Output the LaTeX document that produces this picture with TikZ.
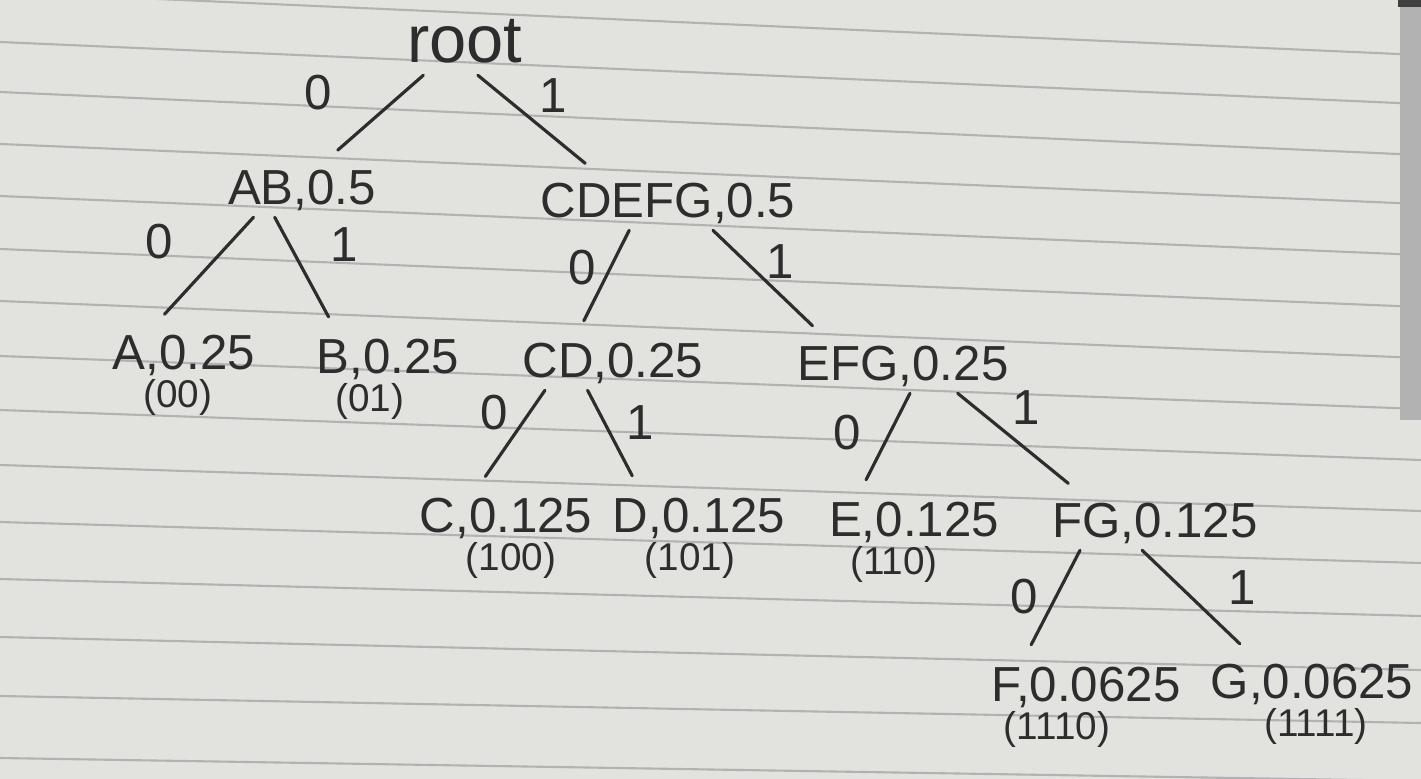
\documentclass[tikz,border=0pt]{standalone}
\usepackage{fontspec}
\setmainfont{Liberation Sans}
\usetikzlibrary{positioning}
\definecolor{paper}{RGB}{226,226,223}
\definecolor{ink}{RGB}{45,45,45}
\definecolor{ruling}{RGB}{178,178,178}
\tikzset{
	prob/.style={
		inner xsep=0, inner ysep=0.12cm,
		text height=10pt, text depth=0pt,
		font=\fontsize{14}{16}\selectfont, text=ink,
	},
	codeword/.style={prob, inner ysep=0, text height=7.9pt, font=\fontsize{11}{13}\selectfont},
	bit/.style={inner sep=0, font=\fontsize{14}{16}\selectfont, text=ink},
	branch/.style={draw=ink, line width=0.9pt, line cap=round, shorten >=0.1cm},
}

\begin{document}
\begin{tikzpicture}[x=0.01cm, y=-0.01cm]
	% lined paper
	\fill[paper] (0,0) rectangle (1421,779);
	\useasboundingbox (0,0) rectangle (1421,779);
	\foreach \yl/\yr in {-8/55, 42/104, 92/155, 144/204, 196/255, 249/307, 301/358, 356/409,
		410/460, 465/511, 522/563, 579/616, 637/670, 696/723, 758/781}
		\draw[ruling, line width=0.6pt] (0,\yl) -- (1421,\yr);
	\fill[gray!60] (1400,0) rectangle (1421,420);
	\fill[black!75] (1398,0) rectangle (1421,7);
	% nodes
	\node[prob, font=\fontsize{19}{21}\selectfont] (root) at (465,45) {root};
	\node[prob] (ab) at (302,187) {AB,0.5};
	\node[prob] (cdefg) at (668,200) {CDEFG,0.5};
	\node[prob] (a) at (184,352) {A,0.25};
	\node[prob] (b) at (388,356) {B,0.25};
	\node[prob] (cd) at (613,360) {CD,0.25};
	\node[prob] (efg) at (903,363) {EFG,0.25};
	\node[prob] (c) at (506,515) {C,0.125};
	\node[prob] (d) at (699,515) {D,0.125};
	\node[prob] (e) at (914,519) {E,0.125};
	\node[prob] (fg) at (1155,520) {FG,0.125};
	\node[prob] (f) at (1086,684) {F,0.0625};
	\node[prob] (g) at (1312,681) {G,0.0625};
	% codewords
	\node[codeword, below=-0.035cm of a, xshift=-0.06cm] (a-code) {(00)};
	\node[codeword, below=-0.035cm of b, xshift=-0.18cm] (b-code) {(01)};
	\node[codeword, below=-0.035cm of c, xshift=0.05cm] (c-code) {(100)};
	\node[codeword, below=-0.035cm of d, xshift=-0.09cm] (d-code) {(101)};
	\node[codeword, below=-0.035cm of e, xshift=-0.2cm] (e-code) {(110)};
	\node[codeword, below=-0.035cm of f, xshift=-0.29cm] (f-code) {(1110)};
	\node[codeword, below=-0.035cm of g, xshift=0.04cm] (g-code) {(1111)};
	% branches
	\draw[branch] (root.216) -- (ab.47)
		node[bit, midway, xshift=-0.59cm, yshift=0.235cm] (root-0) {0};
	\draw[branch] (root.293) -- (cdefg.158)
		node[bit, midway, xshift=0.18cm, yshift=0.27cm] (root-1) {1};
	\draw[branch] (ab.212) -- (a.131)
		node[bit, midway, xshift=-0.465cm, yshift=0.275cm] (ab-0) {0};
	\draw[branch] (ab.228) -- (b.151)
		node[bit, midway, xshift=0.4cm, yshift=0.265cm] (ab-1) {1};
	\draw[branch] (cdefg.218) -- (cd.138)
		node[bit, midway, xshift=-0.22cm, yshift=0.12cm] (cdefg-0) {0};
	\draw[branch] (cdefg.326) -- (efg.160)
		node[bit, midway, xshift=0.14cm, yshift=0.195cm] (cdefg-1) {1};
	\draw[branch] (cd.204) -- (c.131)
		node[bit, midway, xshift=-0.185cm, yshift=0.245cm] (cd-0) {0};
	\draw[branch] (cd.230) -- (d.154)
		node[bit, midway, xshift=0.28cm, yshift=0.145cm] (cd-1) {1};
	\draw[branch] (efg.283) -- (e.150)
		node[bit, midway, xshift=-0.39cm, yshift=0.08cm] (efg-0) {0};
	\draw[branch] (efg.331) -- (fg.159)
		node[bit, midway, xshift=0.095cm, yshift=0.335cm] (efg-1) {1};
	\draw[branch] (fg.202) -- (f.153)
		node[bit, midway, xshift=-0.29cm, yshift=0.05cm] (fg-0) {0};
	\draw[branch] (fg.247) -- (g.155)
		node[bit, midway, xshift=0.475cm, yshift=0.125cm] (fg-1) {1};
\end{tikzpicture}
\end{document}
